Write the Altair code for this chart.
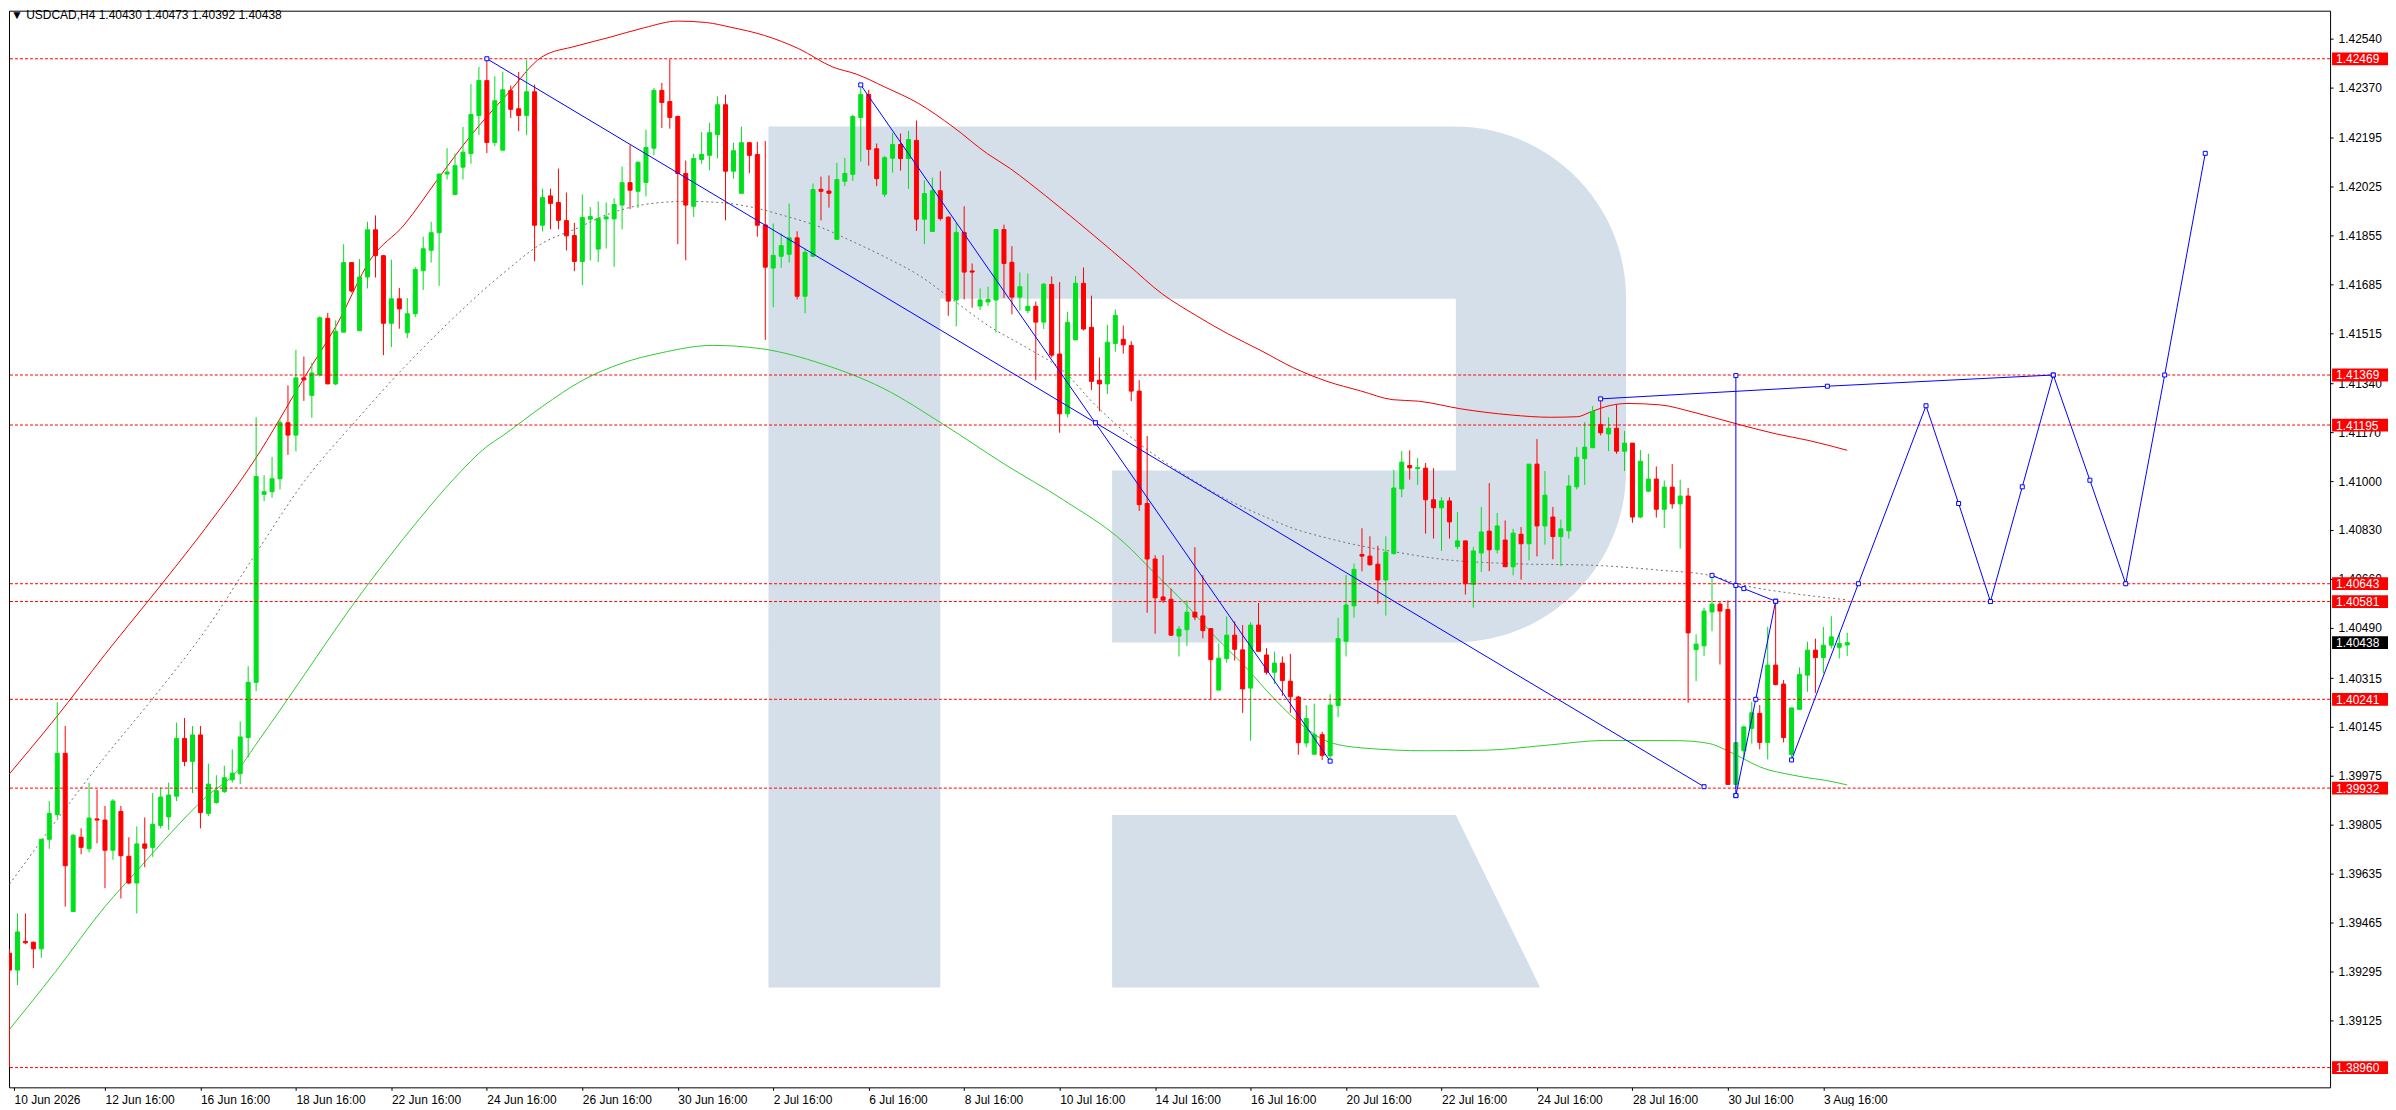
import altair as alt
import pandas as pd

GREEN = "#00e01c"
RED = "#ff0000"
BLUE = "#0000ff"
LOGO = "#d5dfea"
FONT = "Liberation Sans"

W, H = 2324, 1078
X_DOMAIN = [-11.4375, 279.0625]   # bar index, 0 = 12 Jun 16:00 (H4)
Y_DOMAIN = [1.388913, 1.426362]

FIRST_BAR = -12
OPEN = [
    1.39358, 1.39299, 1.39399, 1.39396, 1.39373, 1.39754, 1.39840, 1.40053, 1.39503, 1.39761, 1.39721, 1.39825,
    1.39821, 1.39716, 1.39851, 1.39695, 1.39602, 1.39738, 1.39726, 1.39802, 1.39832, 1.39904, 1.40105, 1.40025,
    1.40117, 1.39844, 1.39882, 1.39920, 1.39961, 1.39982, 1.40108, 1.40300, 1.40954, 1.40963, 1.41008, 1.41203,
    1.41160, 1.41359, 1.41298, 1.41369, 1.41566, 1.41338, 1.41518, 1.41760, 1.41523, 1.41710, 1.41874, 1.41784,
    1.41549, 1.41634, 1.41516, 1.41582, 1.41732, 1.41803, 1.41864, 1.42068, 1.41997, 1.42092, 1.42139, 1.42272,
    1.42393, 1.42178, 1.42151, 1.42358, 1.42295, 1.42272, 1.42354, 1.41890, 1.41992, 1.41969, 1.41906, 1.41854,
    1.41764, 1.41911, 1.41807, 1.41912, 1.41912, 1.41960, 1.42038, 1.42008, 1.42039, 1.42158, 1.42359, 1.42320,
    1.42268, 1.42070, 1.41956, 1.42119, 1.42133, 1.42205, 1.42309, 1.42078, 1.42001, 1.42177, 1.42136, 1.41891,
    1.41741, 1.41782, 1.41789, 1.41846, 1.41643, 1.41782, 1.42015, 1.42009, 1.41841, 1.42043, 1.42067, 1.42265,
    1.42345, 1.42156, 1.41998, 1.42123, 1.42171, 1.42122, 1.42185, 1.41911, 1.41868, 1.42010, 1.41918, 1.41630,
    1.41865, 1.41731, 1.41609, 1.41623, 1.41630, 1.41875, 1.41761, 1.41640, 1.41593, 1.41608, 1.41553, 1.41684,
    1.41442, 1.41234, 1.41491, 1.41688, 1.41535, 1.41351, 1.41338, 1.41479, 1.41493, 1.41472, 1.41313, 1.40922,
    1.40729, 1.40597, 1.40589, 1.40461, 1.40483, 1.40544, 1.40531, 1.40487, 1.40273, 1.40383, 1.40464, 1.40413,
    1.40280, 1.40499, 1.40395, 1.40335, 1.40367, 1.40304, 1.40249, 1.40089, 1.40050, 1.40118, 1.40044, 1.40219,
    1.40443, 1.40566, 1.40745, 1.40739, 1.40711, 1.40656, 1.40748, 1.40973, 1.41054, 1.41043, 1.41045, 1.40935,
    1.40907, 1.40931, 1.40772, 1.40792, 1.40641, 1.40750, 1.40826, 1.40761, 1.40795, 1.40702, 1.40815, 1.40782,
    1.41059, 1.40844, 1.40875, 1.40807, 1.40827, 1.40980, 1.41078, 1.41116, 1.41197, 1.41164, 1.41184, 1.41104,
    1.41132, 1.40875, 1.40965, 1.41007, 1.40902, 1.40979, 1.40921, 1.40948, 1.40414, 1.40427, 1.40545, 1.40572,
    1.40553, 1.39945, 1.40062, 1.40140, 1.40192, 1.40091, 1.40360, 1.40294, 1.40049, 1.40206, 1.40325, 1.40412,
    1.40386, 1.40429, 1.40422, 1.40430,
]
HIGH = [
    1.39373, 1.39496, 1.39496, 1.39398, 1.39754, 1.39887, 1.40231, 1.40148, 1.39773, 1.39792, 1.39951, 1.39927,
    1.39870, 1.39894, 1.39870, 1.39761, 1.39799, 1.39830, 1.39915, 1.39934, 1.39951, 1.40160, 1.40176, 1.40148,
    1.40148, 1.40017, 1.39977, 1.40010, 1.40067, 1.40164, 1.40356, 1.41222, 1.41020, 1.41084, 1.41215, 1.41333,
    1.41457, 1.41433, 1.41412, 1.41573, 1.41585, 1.41559, 1.41824, 1.41762, 1.41772, 1.41902, 1.41924, 1.41786,
    1.41770, 1.41672, 1.41637, 1.41744, 1.41850, 1.41902, 1.42068, 1.42158, 1.42139, 1.42232, 1.42381, 1.42441,
    1.42469, 1.42408, 1.42424, 1.42376, 1.42423, 1.42465, 1.42379, 1.42017, 1.42017, 1.42087, 1.42004, 1.41898,
    1.41997, 1.41953, 1.41973, 1.41969, 1.41984, 1.42094, 1.42169, 1.42112, 1.42222, 1.42367, 1.42385, 1.42467,
    1.42271, 1.42115, 1.42139, 1.42214, 1.42246, 1.42338, 1.42344, 1.42177, 1.42233, 1.42180, 1.42180, 1.42183,
    1.41896, 1.41861, 1.41965, 1.41869, 1.41808, 1.42035, 1.42059, 1.42063, 1.42107, 1.42124, 1.42275, 1.42368,
    1.42361, 1.42174, 1.42131, 1.42211, 1.42209, 1.42218, 1.42254, 1.42046, 1.42056, 1.42078, 1.41921, 1.41898,
    1.41956, 1.41757, 1.41670, 1.41676, 1.41877, 1.41892, 1.41817, 1.41726, 1.41722, 1.41624, 1.41689, 1.41712,
    1.41692, 1.41589, 1.41713, 1.41743, 1.41645, 1.41430, 1.41544, 1.41597, 1.41541, 1.41487, 1.41351, 1.41157,
    1.40742, 1.40742, 1.40626, 1.40496, 1.40585, 1.40770, 1.40673, 1.40487, 1.40436, 1.40529, 1.40512, 1.40499,
    1.40509, 1.40576, 1.40419, 1.40407, 1.40390, 1.40399, 1.40253, 1.40221, 1.40226, 1.40128, 1.40259, 1.40524,
    1.40673, 1.40713, 1.40836, 1.40808, 1.40775, 1.40808, 1.41039, 1.41104, 1.41107, 1.41080, 1.41063, 1.41045,
    1.40944, 1.40944, 1.40892, 1.40792, 1.40771, 1.40910, 1.40993, 1.40889, 1.40863, 1.40834, 1.40840, 1.41059,
    1.41146, 1.41035, 1.40910, 1.40866, 1.41021, 1.41118, 1.41205, 1.41261, 1.41284, 1.41222, 1.41266, 1.41174,
    1.41132, 1.41108, 1.41095, 1.41051, 1.41002, 1.41059, 1.41005, 1.40976, 1.40467, 1.40560, 1.40676, 1.40580,
    1.40585, 1.40090, 1.40149, 1.40232, 1.40221, 1.40493, 1.40583, 1.40308, 1.40211, 1.40352, 1.40441, 1.40452,
    1.40493, 1.40530, 1.40471, 1.40473,
]
LOW = [
    1.38962, 1.39247, 1.39389, 1.39306, 1.39342, 1.39721, 1.39828, 1.39520, 1.39503, 1.39702, 1.39709, 1.39740,
    1.39584, 1.39683, 1.39548, 1.39598, 1.39496, 1.39657, 1.39693, 1.39792, 1.39787, 1.39887, 1.40008, 1.39915,
    1.39792, 1.39835, 1.39878, 1.39915, 1.39951, 1.39946, 1.40039, 1.40269, 1.40930, 1.40942, 1.40971, 1.41091,
    1.41103, 1.41279, 1.41220, 1.41364, 1.41338, 1.41333, 1.41518, 1.41656, 1.41523, 1.41670, 1.41708, 1.41438,
    1.41466, 1.41530, 1.41497, 1.41570, 1.41665, 1.41760, 1.41679, 1.42049, 1.41997, 1.42049, 1.42104, 1.42203,
    1.42141, 1.42165, 1.42151, 1.42263, 1.42217, 1.42203, 1.41765, 1.41869, 1.41876, 1.41876, 1.41802, 1.41730,
    1.41682, 1.41767, 1.41762, 1.41809, 1.41745, 1.41876, 1.41946, 1.41950, 1.41990, 1.42133, 1.42228, 1.42226,
    1.41824, 1.41768, 1.41919, 1.42104, 1.42081, 1.42123, 1.41907, 1.42052, 1.42001, 1.42071, 1.41850, 1.41491,
    1.41605, 1.41742, 1.41760, 1.41632, 1.41584, 1.41780, 1.41907, 1.41951, 1.41841, 1.42026, 1.42044, 1.42111,
    1.42097, 1.42026, 1.41988, 1.42073, 1.42080, 1.42017, 1.41870, 1.41824, 1.41868, 1.41906, 1.41575, 1.41538,
    1.41632, 1.41603, 1.41595, 1.41609, 1.41517, 1.41637, 1.41580, 1.41593, 1.41584, 1.41351, 1.41529, 1.41430,
    1.41168, 1.41221, 1.41491, 1.41524, 1.41317, 1.41243, 1.41303, 1.41450, 1.41443, 1.41278, 1.40896, 1.40542,
    1.40469, 1.40576, 1.40461, 1.40390, 1.40427, 1.40516, 1.40453, 1.40241, 1.40273, 1.40368, 1.40376, 1.40194,
    1.40097, 1.40408, 1.40327, 1.40294, 1.40253, 1.40194, 1.40048, 1.40074, 1.40050, 1.40030, 1.40024, 1.40179,
    1.40390, 1.40525, 1.40686, 1.40706, 1.40573, 1.40532, 1.40744, 1.40944, 1.41005, 1.40987, 1.40817, 1.40800,
    1.40757, 1.40800, 1.40763, 1.40605, 1.40560, 1.40684, 1.40687, 1.40748, 1.40702, 1.40672, 1.40657, 1.40724,
    1.40738, 1.40779, 1.40728, 1.40704, 1.40800, 1.40971, 1.40987, 1.41116, 1.41159, 1.41104, 1.41095, 1.41035,
    1.40855, 1.40871, 1.40962, 1.40873, 1.40837, 1.40904, 1.40765, 1.40229, 1.40304, 1.40392, 1.40478, 1.40362,
    1.39945, 1.39932, 1.40035, 1.40087, 1.40067, 1.40032, 1.40290, 1.40091, 1.40030, 1.40206, 1.40267, 1.40263,
    1.40331, 1.40418, 1.40383, 1.40392,
]
CLOSE = [
    1.39299, 1.39432, 1.39394, 1.39373, 1.39754, 1.39844, 1.40053, 1.39662, 1.39768, 1.39726, 1.39828, 1.39821,
    1.39716, 1.39887, 1.39697, 1.39602, 1.39738, 1.39723, 1.39806, 1.39901, 1.39908, 1.40105, 1.40025, 1.40117,
    1.39847, 1.39946, 1.39923, 1.39968, 1.39984, 1.40110, 1.40300, 1.41016, 1.40963, 1.41008, 1.41203, 1.41160,
    1.41359, 1.41352, 1.41376, 1.41568, 1.41338, 1.41521, 1.41760, 1.41661, 1.41710, 1.41874, 1.41784, 1.41549,
    1.41634, 1.41599, 1.41582, 1.41736, 1.41808, 1.41864, 1.42068, 1.42075, 1.42097, 1.42144, 1.42275, 1.42393,
    1.42178, 1.42323, 1.42361, 1.42293, 1.42272, 1.42354, 1.41890, 1.41986, 1.41966, 1.41907, 1.41853, 1.41764,
    1.41917, 1.41920, 1.41913, 1.41919, 1.41962, 1.42038, 1.42012, 1.42109, 1.42160, 1.42359, 1.42317, 1.42265,
    1.42070, 1.41960, 1.42122, 1.42136, 1.42212, 1.42309, 1.42078, 1.42149, 1.42177, 1.42133, 1.41890, 1.41744,
    1.41785, 1.41819, 1.41846, 1.41643, 1.41796, 1.42014, 1.42008, 1.42001, 1.42049, 1.42070, 1.42268, 1.42345,
    1.42154, 1.42052, 1.42125, 1.42171, 1.42122, 1.42188, 1.41911, 1.42000, 1.42010, 1.41913, 1.41626, 1.41865,
    1.41727, 1.41727, 1.41630, 1.41632, 1.41875, 1.41757, 1.41640, 1.41676, 1.41608, 1.41553, 1.41685, 1.41438,
    1.41234, 1.41552, 1.41688, 1.41529, 1.41347, 1.41338, 1.41483, 1.41576, 1.41474, 1.41313, 1.40918, 1.40729,
    1.40594, 1.40586, 1.40464, 1.40485, 1.40544, 1.40527, 1.40480, 1.40379, 1.40384, 1.40464, 1.40415, 1.40277,
    1.40499, 1.40408, 1.40335, 1.40367, 1.40306, 1.40250, 1.40090, 1.40174, 1.40118, 1.40046, 1.40221, 1.40452,
    1.40569, 1.40693, 1.40739, 1.40709, 1.40656, 1.40753, 1.40976, 1.41066, 1.41046, 1.41047, 1.40935, 1.40907,
    1.40931, 1.40858, 1.40792, 1.40643, 1.40757, 1.40823, 1.40761, 1.40844, 1.40702, 1.40819, 1.40782, 1.41059,
    1.40844, 1.40951, 1.40807, 1.40834, 1.40983, 1.41083, 1.41118, 1.41242, 1.41168, 1.41184, 1.41104, 1.41132,
    1.40875, 1.41069, 1.41007, 1.40902, 1.40979, 1.40921, 1.40948, 1.40472, 1.40433, 1.40548, 1.40572, 1.40548,
    1.39945, 1.40090, 1.40145, 1.40194, 1.40091, 1.40360, 1.40292, 1.40108, 1.40211, 1.40328, 1.40412, 1.40386,
    1.40429, 1.40458, 1.40435, 1.40438,
]

# moving averages (bar index, price)
RED_MA_BAR = [-12, -6.2, 0, 7.6, 12.6, 18.8, 25.1, 29.2, 33.4, 37.6, 41.7, 45.9, 50.6, 54.9, 59.2, 63.5, 67.8,
              72, 75.6, 78.6, 82.9, 87.2, 91.5, 94.5, 98, 102.3, 106.6, 110.9, 113.8, 116.1, 120.3, 124.4,
              128.6, 132.8, 136.9, 141.1, 145.3, 149.4, 153.6, 157.8, 161.9, 165.1, 170.5, 176.7, 181.7,
              185.1, 186.7, 189.2, 191.3, 195.5, 199.6, 205.9, 210.1, 214.2, 219]
RED_MA = [1.39982, 1.40176, 1.40397, 1.40658, 1.40835, 1.41073, 1.41362, 1.41547, 1.41772, 1.41891, 1.42045,
          1.42199, 1.42347, 1.42475, 1.42513, 1.42544, 1.42577, 1.42600, 1.42595, 1.42579, 1.42550, 1.42504,
          1.42440, 1.42415, 1.42371, 1.42313, 1.42232, 1.42139, 1.42087, 1.42039, 1.41946, 1.41852, 1.41753,
          1.41653, 1.41580, 1.41513, 1.41454, 1.41394, 1.41347, 1.41314, 1.41283, 1.41278, 1.41251, 1.41230,
          1.41222, 1.41224, 1.41240, 1.41263, 1.41270, 1.41265, 1.41240, 1.41193, 1.41164, 1.41141, 1.41107]

GREEN_MA_BAR = [-12, -6.2, 0, 4.2, 8.4, 12.6, 16.7, 18.8, 23, 27.1, 31.3, 35.5, 39.6, 43.8, 48, 50.1, 55, 60,
                65, 69.9, 76.4, 82.6, 90.2, 97.8, 105.4, 113, 120.5, 128.1, 131.9, 135.7, 139.5, 143.3, 147.1,
                150.8, 153.9, 158.4, 166, 173.6, 181.1, 188.7, 197.8, 201.7, 203.8, 205.9, 208, 212.2, 217.6, 219]
GREEN_MA = [1.39093, 1.39294, 1.39520, 1.39650, 1.39780, 1.39899, 1.39994, 1.40077, 1.40243, 1.40409, 1.40575,
            1.40729, 1.40871, 1.41006, 1.41120, 1.41160, 1.41260, 1.41350, 1.41410, 1.41446, 1.41472, 1.41460,
            1.41407, 1.41323, 1.41197, 1.41060, 1.40934, 1.40786, 1.40681, 1.40576, 1.40460, 1.40355, 1.40239,
            1.40144, 1.40092, 1.40071, 1.40062, 1.40064, 1.40081, 1.40098, 1.40097, 1.40087, 1.40064, 1.40035,
            1.40006, 1.39977, 1.39952, 1.39943]

GRAY_MA_BAR = [-12, -6.2, 0, 6.3, 12.6, 18.8, 25.1, 31.7, 36.7, 41.7, 50.1, 54.9, 59.2, 63.5, 67.8, 73, 77.3,
               81.6, 85.9, 89.3, 93.6, 98, 102.3, 106.6, 110.9, 116.1, 120.3, 124.4, 128.6, 132.8, 136.9, 141.1,
               145.3, 149.4, 153.6, 157.8, 161.9, 168.4, 176.7, 187.1, 195.5, 201.7, 205.9, 212.2, 219]
GRAY_MA = [1.39598, 1.39816, 1.40041, 1.40254, 1.40480, 1.40741, 1.41001, 1.41215, 1.41369, 1.41511, 1.41724,
           1.41826, 1.41878, 1.41931, 1.41962, 1.41973, 1.41969, 1.41951, 1.41919, 1.41890, 1.41838, 1.41780,
           1.41716, 1.41630, 1.41543, 1.41460, 1.41387, 1.41267, 1.41161, 1.41074, 1.41001, 1.40935, 1.40882,
           1.40835, 1.40802, 1.40775, 1.40755, 1.40727, 1.40713, 1.40707, 1.40690, 1.40672, 1.40638, 1.40609,
           1.40587]

# analysis lines (bar index, price)
CHANNEL_BAR, CHANNEL = [48, 124.5, 201], [1.42469, 1.41203, 1.39937]
STEEP_BAR, STEEP = [95, 154], [1.42378, 1.40026]
TOPLINE_BAR, TOPLINE = [188, 216.5, 244.9], [1.41286, 1.41330, 1.41369]
VERTICAL_BAR, VERTICAL = [205, 205], [1.41367, 1.39906]
FLAG_BAR, FLAG = [202, 205, 206, 210], [1.40672, 1.40637, 1.40626, 1.40582]
REBOUND_BAR, REBOUND = [205, 207.5, 210], [1.39906, 1.40241, 1.40582]
FORECAST_BAR = [212, 220.4, 228.9, 233, 237, 241, 244.9, 249.5, 254, 258.9, 264]
FORECAST = [1.40030, 1.40643, 1.41262, 1.40922, 1.40581, 1.40980, 1.41369, 1.41003, 1.40643, 1.41369, 1.42140]

LEVELS = [1.42469, 1.41369, 1.41195, 1.40643, 1.40581, 1.40241, 1.39932, 1.38960]
LAST_PRICE = 1.40438

Y_TICKS = [1.42540, 1.42370, 1.42195, 1.42025, 1.41855, 1.41685, 1.41515, 1.41340, 1.41170, 1.41000, 1.40830,
           1.40660, 1.40490, 1.40315, 1.40145, 1.39975, 1.39805, 1.39635, 1.39465, 1.39295, 1.39125]
X_TICK_BARS = [-11.43, 0, 12, 24, 36, 48, 60, 72, 84, 96, 108, 120, 132, 144, 156, 168, 180, 192, 204, 216]
X_TICK_TEXT = ["10 Jun 2026", "12 Jun 16:00", "16 Jun 16:00", "18 Jun 16:00", "22 Jun 16:00", "24 Jun 16:00",
               "26 Jun 16:00", "30 Jun 16:00", "2 Jul 16:00", "6 Jul 16:00", "8 Jul 16:00", "10 Jul 16:00",
               "14 Jul 16:00", "16 Jul 16:00", "20 Jul 16:00", "22 Jul 16:00", "24 Jul 16:00", "28 Jul 16:00",
               "30 Jul 16:00", "3 Aug 16:00"]

# watermark "R" shape in chart units
LOGO_LEFT, LOGO_STEM_RIGHT, LOGO_INNER_LEFT, LOGO_INNER_RIGHT, LOGO_RIGHT, LOGO_LEG_END = 83.4, 105.0, 126.6, 169.8, 191.2, 180.4
LOGO_TOP, LOGO_BAR_LOW, LOGO_MID_TOP, LOGO_BOWL_LOW, LOGO_LEG_TOP, LOGO_BOTTOM = 1.422332, 1.416343, 1.410365, 1.404386, 1.398386, 1.392388

xs = alt.Scale(domain=X_DOMAIN, nice=False, zero=False)
ys = alt.Scale(domain=Y_DOMAIN, nice=False, zero=False)

label_list = ",".join(f"'{t}'" for t in X_TICK_TEXT[1:])
x_axis = alt.Axis(
    values=X_TICK_BARS, labelExpr=f"datum.value < 0 ? '{X_TICK_TEXT[0]}' : [{label_list}][round(datum.value / 12)]",
    orient="bottom", grid=False, domain=False, ticks=True, tickSize=3, tickColor="black",
    labelAlign="left", labelBaseline="top", labelPadding=4, labelOverlap=False, labelFlush=False,
)
y_axis = alt.Axis(
    values=Y_TICKS, format=".5f", orient="right", grid=False, domain=False, tickSize=3,
    tickColor="black", labelPadding=5, labelOverlap=False, labelFlush=False,
)


def X(field="i"):
    return alt.X(f"{field}:Q", scale=xs, axis=x_axis, title=None)


def Y(field="p"):
    return alt.Y(f"{field}:Q", scale=ys, axis=y_axis, title=None)


bars = pd.DataFrame({
    "i": list(range(FIRST_BAR, FIRST_BAR + len(OPEN))),
    "o": OPEN, "h": HIGH, "l": LOW, "c": CLOSE,
})
bars["col"] = [GREEN if c >= o else RED for o, c in zip(bars["o"], bars["c"])]
candle_color = alt.Color("col:N", scale=None, legend=None)

# watermark
bowl = alt.Chart(pd.DataFrame({"i": [LOGO_LEFT], "i2": [LOGO_RIGHT], "p": [LOGO_TOP], "p2": [LOGO_BOWL_LOW]})).mark_rect(
    color=LOGO, cornerRadiusTopRight=172, cornerRadiusBottomRight=172
).encode(x=X(), x2="i2", y=Y(), y2="p2")
stem = alt.Chart(pd.DataFrame({"i": [LOGO_LEFT], "i2": [LOGO_STEM_RIGHT], "p": [LOGO_BOWL_LOW + 0.00002],
                               "p2": [LOGO_BOTTOM]})).mark_rect(color=LOGO).encode(
    x=X(), x2="i2", y=Y(), y2="p2")
holes = alt.Chart(pd.DataFrame({
    "i": [LOGO_STEM_RIGHT, LOGO_STEM_RIGHT],
    "i2": [LOGO_INNER_RIGHT, LOGO_INNER_LEFT],
    "p": [LOGO_BAR_LOW, LOGO_MID_TOP + 0.00002],
    "p2": [LOGO_MID_TOP, LOGO_BOWL_LOW - 0.00002],
})).mark_rect(color="white").encode(x=X(), x2="i2", y=Y(), y2="p2")
leg = alt.Chart(pd.DataFrame({
    "i": [LOGO_INNER_LEFT, LOGO_INNER_RIGHT, LOGO_LEG_END],
    "p": [LOGO_LEG_TOP, LOGO_LEG_TOP, LOGO_BOTTOM],
    "p2": [LOGO_BOTTOM, LOGO_BOTTOM, LOGO_BOTTOM],
})).mark_area(color=LOGO, opacity=1, interpolate="linear").encode(x=X(), y=Y(), y2="p2")

# moving averages
red_ma = alt.Chart(pd.DataFrame({"i": RED_MA_BAR, "p": RED_MA})).mark_line(
    color="#f00000", strokeWidth=1, clip=True, interpolate="monotone").encode(x=X(), y=Y())
green_ma = alt.Chart(pd.DataFrame({"i": GREEN_MA_BAR, "p": GREEN_MA})).mark_line(
    color="#2ecc2e", strokeWidth=1, clip=True, interpolate="monotone").encode(x=X(), y=Y())
gray_ma = alt.Chart(pd.DataFrame({"i": GRAY_MA_BAR, "p": GRAY_MA})).mark_line(
    color="#6e6e6e", strokeWidth=1, strokeDash=[2, 3], clip=True, interpolate="monotone").encode(x=X(), y=Y())

# candles
wicks = alt.Chart(bars).mark_rule(strokeWidth=1, clip=True).encode(
    x=X(), y=Y("l"), y2="h", color=candle_color)
bodies = alt.Chart(bars).mark_bar(size=4, strokeWidth=1, clip=True).encode(
    x=X(), y=Y("o"), y2="c", color=candle_color, stroke=candle_color)

# horizontal levels
levels = alt.Chart(pd.DataFrame({"p": LEVELS})).mark_rule(
    color=RED, strokeWidth=1, strokeDash=[3, 2]).encode(y=Y())

# trend lines
segments = []
for name, bx, px in [("channel", CHANNEL_BAR, CHANNEL), ("steep", STEEP_BAR, STEEP),
                     ("top", TOPLINE_BAR, TOPLINE), ("vertical", VERTICAL_BAR, VERTICAL),
                     ("flag", FLAG_BAR, FLAG), ("rebound", REBOUND_BAR, REBOUND),
                     ("forecast", FORECAST_BAR, FORECAST)]:
    segments.append(pd.DataFrame({"i": bx, "p": px, "seg": name, "k": range(len(bx))}))
trend = pd.concat(segments)
trend_lines = alt.Chart(trend).mark_line(color=BLUE, strokeWidth=1).encode(
    x=X(), y=Y(), detail="seg:N", order="k:Q")
trend_nodes = alt.Chart(trend).mark_point(
    shape="square", size=16, filled=True, fill="white", stroke=BLUE, strokeWidth=1, opacity=1
).encode(x=X(), y=Y())

# header
header = alt.Chart(pd.DataFrame({"t": ["\u25bc USDCAD,H4  1.40430 1.40473 1.40392 1.40438"]})).mark_text(
    align="left", baseline="middle", fontSize=12, font=FONT, color="black"
).encode(x=alt.value(2), y=alt.value(4), text="t:N")

# price tags on the right axis
tags = pd.DataFrame({"p": LEVELS + [LAST_PRICE]})
tags["col"] = [RED] * len(LEVELS) + ["#000000"]
tags["txt"] = [f"{v:.5f}" for v in tags["p"]]
tag_box = alt.Chart(tags).transform_calculate(
    top="datum.p + 0.000222", bot="datum.p - 0.000222"
).mark_rect().encode(
    x=alt.value(W + 2), x2=alt.value(W + 58), y=Y("top"), y2="bot",
    color=alt.Color("col:N", scale=None, legend=None))
tag_text = alt.Chart(tags).mark_text(
    align="left", baseline="middle", fontSize=12, font=FONT, color="white", dy=0.5
).encode(x=alt.value(W + 6), y=Y(), text="txt:N")

chart = alt.layer(
    bowl, holes, stem, leg,
    gray_ma, red_ma, green_ma,
    wicks, bodies,
    levels,
    trend_lines, trend_nodes,
    header, tag_box, tag_text,
).properties(
    width=W, height=H, padding={"left": 0, "top": 0, "right": 0, "bottom": 0}, background="white"
).configure_view(
    stroke="black", strokeWidth=1
).configure_axis(
    labelFont=FONT, labelFontSize=12, labelColor="black"
)

chart.save("out.html", embed_options={"renderer": "svg", "actions": False})
